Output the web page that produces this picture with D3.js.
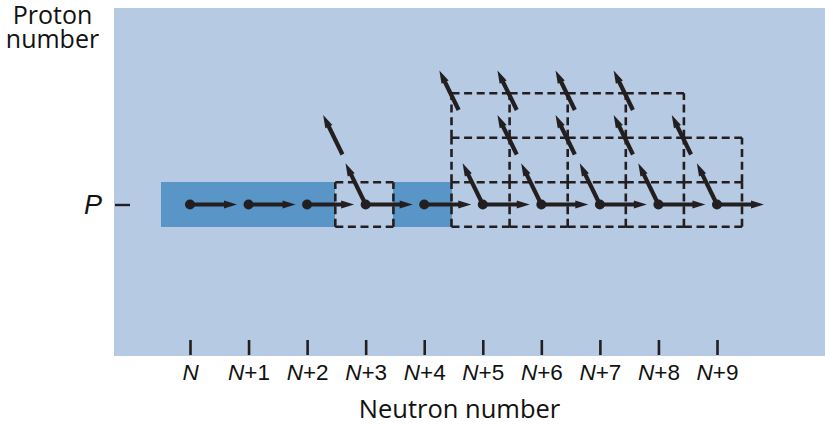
<!DOCTYPE html>
<html><head><meta charset="utf-8">
<script src="https://cdn.jsdelivr.net/npm/d3@7"></script>
<style>
body{margin:0;background:#fff}
svg{display:block;font-family:"Open Sans","Noto Sans",sans-serif}
</style>
</head><body>
<svg id="c" width="825" height="426"></svg>
<script>
// ---- data ----
const neutronOffsets = [0,1,2,3,4,5,6,7,8,9];
const neutronTickLabels = ["N","N+1","N+2","N+3","N+4","N+5","N+6","N+7","N+8","N+9"];
const protonTickValues = [0];
const protonTickLabels = ["P"];
// stable nuclei (proton row 0 = P)
const stableRow0 = [0,1,2,4];
// unstable nuclei per proton row (P, P+1, P+2)
const unstableRow0 = [3,5,6,7,8,9];
const unstableRow1 = [5,6,7,8,9];
const unstableRow2 = [5,6,7,8];
// neutron-capture arrows (from nucleus at row P)
const captureFrom = [0,1,2,3,4,5,6,7,8,9];
// beta-decay arrows
const betaFromRow0 = [3,5,6,7,8,9];
const betaRow1 = [3,6,7,8,9];
const betaRow2 = [5,6,7,8];

// ---- styles ----
const INK = "#231f20";
const BG = "#b6cae4";
const STABLE = "#5a95c8";

const svg = d3.select("#c");
const x = d3.scaleLinear().domain([0,9]).range([190,717]);
const xCell = d3.scaleLinear().domain([-0.5,9.5]).range([161,742]);
const y = d3.scaleLinear().domain([0,2]).range([204.5,115.5]);

svg.append("rect").attr("x",114).attr("y",8).attr("width",711).attr("height",348).attr("fill",BG);

// stable cells
svg.append("g").attr("shape-rendering","crispEdges").selectAll("rect")
  .data(stableRow0.map(n=>({n,p:0}))).join("rect")
  .attr("x",d=>xCell(d.n-0.5)).attr("width",d=>xCell(d.n+0.5)-xCell(d.n-0.5))
  .attr("y",d=>y(d.p+0.5)).attr("height",d=>y(d.p-0.5)-y(d.p+0.5))
  .attr("fill",STABLE);

// unstable cells: dashed edges (deduplicated)
const unstable = [
  ...unstableRow0.map(n=>({n,p:0})),
  ...unstableRow1.map(n=>({n,p:1})),
  ...unstableRow2.map(n=>({n,p:2}))
];
const edgeMap = new Map();
unstable.forEach(({n,p})=>{
  const a=n-0.5,b=n+0.5,c=p-0.5,d=p+0.5;
  [[a,d,b,d],[a,c,b,c],[a,c,a,d],[b,c,b,d]].forEach(e=>{
    edgeMap.set(e.join(","), e);
  });
});
svg.append("g").selectAll("line").data([...edgeMap.values()]).join("line")
  .attr("x1",e=>xCell(e[0])).attr("y1",e=>y(e[1]))
  .attr("x2",e=>xCell(e[2])).attr("y2",e=>y(e[3]))
  .attr("stroke",INK).attr("stroke-width",2.6).attr("stroke-dasharray","8,4.6");

// arrows
const arrowG = svg.append("g");
function arrow(x0,y0,x1,y1){
  const dx=x1-x0, dy=y1-y0, L=Math.hypot(dx,dy), ux=dx/L, uy=dy/L;
  const head=13, hw=3.9;
  const bx=x1-ux*head, by=y1-uy*head;
  arrowG.append("line").attr("x1",x0).attr("y1",y0)
    .attr("x2",x1-ux*(head-3)).attr("y2",y1-uy*(head-3))
    .attr("stroke",INK).attr("stroke-width",4.2);
  arrowG.append("path")
    .attr("d",`M${x1},${y1}L${bx-uy*hw},${by+ux*hw}L${bx+uy*hw},${by-ux*hw}Z`)
    .attr("fill",INK);
}
const capLen = 47;
captureFrom.forEach(n=>arrow(x(n),y(0),x(n)+capLen,y(0)));
const ang = 64*Math.PI/180, ux=-Math.cos(ang), uy=-Math.sin(ang);
const betaLen0 = 46, betaLen = 44;
betaFromRow0.forEach(n=>arrow(x(n),y(0),x(n)+ux*betaLen0,y(0)+uy*betaLen0));
[[betaRow1,1],[betaRow2,2]].forEach(([arr,p])=>{
  arr.forEach(n=>{
    const cx=xCell(n-0.5)-2.5, cy=y(p+0.5)-3;
    arrow(cx-ux*betaLen/2,cy-uy*betaLen/2,cx+ux*betaLen/2,cy+uy*betaLen/2);
  });
});

// nuclei dots
svg.append("g").selectAll("circle").data(captureFrom).join("circle")
  .attr("cx",n=>x(n)).attr("cy",y(0)).attr("r",5).attr("fill",INK);

// x axis
const xa = svg.append("g").attr("transform","translate(0,355)")
  .call(d3.axisBottom(x).tickValues(neutronOffsets).tickSizeInner(-15).tickSizeOuter(0).tickPadding(9));
xa.select(".domain").remove();
xa.selectAll(".tick line").attr("stroke",INK).attr("stroke-width",2.6);
xa.selectAll(".tick text").each(function(d,i){
  const t=d3.select(this).text("").attr("font-size",22.5).attr("fill","#111").attr("font-family",null);
  const lab=neutronTickLabels[i];
  t.append("tspan").attr("font-style","italic").text(lab[0]);
  if(lab.length>1) t.append("tspan").text(lab.slice(1));
});

// y axis
const ya = svg.append("g").attr("transform","translate(130,0)")
  .call(d3.axisLeft(y).tickValues(protonTickValues).tickSizeInner(15).tickSizeOuter(0).tickPadding(13)
    .tickFormat((d,i)=>protonTickLabels[i]));
ya.select(".domain").remove();
ya.selectAll(".tick line").attr("stroke",INK).attr("stroke-width",2.4);
ya.selectAll(".tick text").attr("font-size",27).attr("font-style","italic").attr("fill","#111").attr("font-family",null);

// titles
svg.append("text").attr("x",459.5).attr("y",418).attr("text-anchor","middle")
  .attr("font-size",25.5).attr("fill","#111").text("Neutron number");
const yt = svg.append("text").attr("text-anchor","middle").attr("font-size",25).attr("fill","#111");
yt.append("tspan").attr("x",52.5).attr("y",24).text("Proton");
yt.append("tspan").attr("x",52.5).attr("y",48).text("number");
</script>
</body></html>
